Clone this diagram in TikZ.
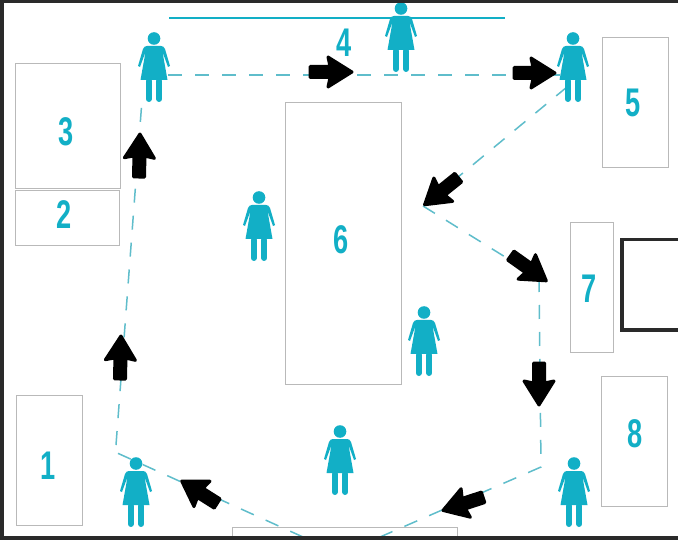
\documentclass[tikz,border=0pt]{standalone}
\usepackage{fontspec}
\setmainfont{Liberation Sans}
\newfontfamily\numfont[FakeStretch=0.68]{Liberation Sans Bold}
\usetikzlibrary{calc}
\definecolor{teal1}{HTML}{12AFC6}
\definecolor{dash1}{HTML}{5FBDCB}
\definecolor{box1}{HTML}{B9B9B9}
\definecolor{frame1}{HTML}{2A2A2A}
\tikzset{
  x=1pt,y=-1pt,
  roombox/.style={draw=box1,line width=1.1pt,fill=white,inner sep=0,anchor=north west},
  numlabel/.style={text=teal1,inner sep=0,font=\numfont\fontsize{40}{40}\selectfont},
  walkpath/.style={draw=dash1,line width=1.5pt,dash pattern=on 14pt off 13pt},
  blockarrow/.style={fill=black,draw=black,line width=3pt,line join=round},
  woman/.pic={
    \fill[teal1] (0,5.5) circle (6.3);
    \fill[teal1] (-7,13) -- (7,13) .. controls (9,13) and (10,14) .. (11,16) -- (16,33) -- (14,34) -- (8.5,19) -- (13.5,47) -- (-13.5,47) -- (-8.5,19) -- (-14,34) -- (-16,33) -- (-11,16) .. controls (-10,14) and (-9,13) .. (-7,13) -- cycle;
    \draw[teal1,line width=6pt,line cap=round] (-5.2,48) -- (-5.2,66) (5.2,48) -- (5.2,66);
  }
}
\newcommand{\blockarr}[2]{%
  \path let \p1=($(#2)-(#1)$),\n1={atan2(\y1,\x1)},\n2={veclen(\x1,\y1)} in
    [blockarrow,rotate around={\n1:(#1)}]
    ($(#1)+(1,-5.5)$) -- ($(#1)+(\n2-24,-5.5)$) -- ($(#1)+(\n2-26,-15)$) -- ($(#1)+(\n2-2,0)$) -- ($(#1)+(\n2-26,15)$) -- ($(#1)+(\n2-24,5.5)$) -- ($(#1)+(1,5.5)$) -- cycle;%
}
\begin{document}
\begin{tikzpicture}
\useasboundingbox (0,0) rectangle (678,540);
\fill[white] (0,0) rectangle (678,540);

\node[roombox,minimum width=105pt,minimum height=125pt] (r3) at (15,63) {};
\node[roombox,minimum width=104pt,minimum height=55pt] (r2) at (15,190) {};
\node[roombox,minimum width=66pt,minimum height=130pt] (r1) at (16,395) {};
\node[roombox,minimum width=116pt,minimum height=282pt] (r6) at (285,102) {};
\node[roombox,minimum width=66pt,minimum height=130pt] (r5) at (602,37) {};
\node[roombox,minimum width=43pt,minimum height=130pt] (r7) at (570,222) {};
\node[roombox,minimum width=66pt,minimum height=130pt] (r8) at (601,376) {};
\node[roombox,minimum width=225pt,minimum height=20pt] (r9) at (232,527) {};

\node[numlabel] (n3) at (66,132) {3};
\node[numlabel] (n2) at (64,215) {2};
\node[numlabel] (n1) at (48,466) {1};
\node[numlabel] (n6) at (341,240) {6};
\node[numlabel] (n5) at (633,103) {5};
\node[numlabel] (n7) at (589,289) {7};
\node[numlabel] (n8) at (635,434) {8};
\node[numlabel] (n4) at (344,43) {4};

\draw[teal1,line width=1.7pt] (169,18) -- (505,18);
\draw[frame1,line width=3.5pt] (678,239.5) -- (622,239.5) -- (622,330) -- (678,330);

\coordinate (a) at (168,75);
\coordinate (b) at (574,75);
\coordinate (c) at (567,87);
\coordinate (d) at (423,206);
\coordinate (e) at (539,278);
\coordinate (f) at (541,467);
\coordinate (g) at (380,537);
\coordinate (h) at (303,537);
\coordinate (i) at (115,452);
\coordinate (j) at (116,445);
\coordinate (k) at (142,100);

\draw[walkpath] (a) -- (b);
\draw[walkpath] (c) -- (d);
\draw[walkpath] (d) -- (e);
\draw[walkpath] (e) -- (f) -- (g);
\draw[walkpath] (h) -- (i);
\draw[walkpath] (j) -- (k);

\pic at (154,33) {woman};
\pic at (401,3) {woman};
\pic at (573,33) {woman};
\pic at (259,192) {woman};
\pic at (424,307) {woman};
\pic at (340,426) {woman};
\pic at (136,458) {woman};
\pic at (574,458) {woman};

\coordinate (A1s) at (309,72); \coordinate (A1e) at (354,72);
\coordinate (A2s) at (513,73); \coordinate (A2e) at (557,73);
\coordinate (A3s) at (459,177); \coordinate (A3e) at (423,206);
\coordinate (A4s) at (510,255); \coordinate (A4e) at (548,282);
\coordinate (A5s) at (539,362); \coordinate (A5e) at (539,407);
\coordinate (A6s) at (484,497); \coordinate (A6e) at (441,511);
\coordinate (A7s) at (218,504); \coordinate (A7e) at (180,480);
\coordinate (A8s) at (120,380); \coordinate (A8e) at (121,334);
\coordinate (A9s) at (139,178); \coordinate (A9e) at (140,132);
\blockarr{A1s}{A1e}
\blockarr{A2s}{A2e}
\blockarr{A3s}{A3e}
\blockarr{A4s}{A4e}
\blockarr{A5s}{A5e}
\blockarr{A6s}{A6e}
\blockarr{A7s}{A7e}
\blockarr{A8s}{A8e}
\blockarr{A9s}{A9e}

\draw[frame1,line width=4pt] (678,1.5) -- (2,1.5) -- (2,537.5) -- (678,537.5);
\end{tikzpicture}
\end{document}
